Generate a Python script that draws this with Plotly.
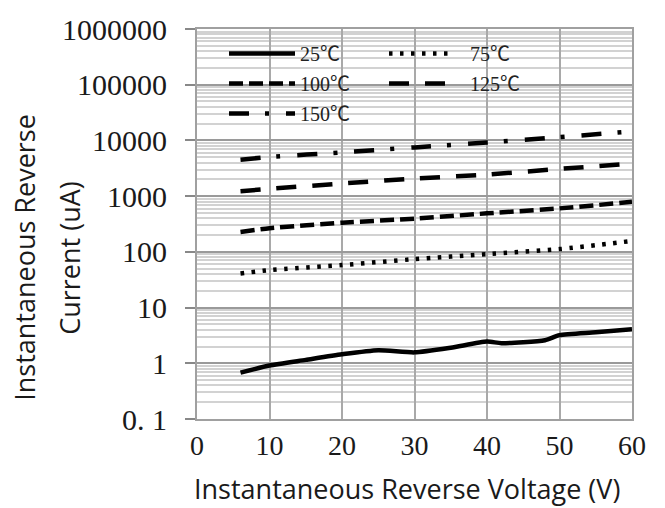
import plotly.graph_objects as go

# ---------------- data ----------------
voltage_25 = [6, 10, 15, 20, 25, 30, 35, 40, 42, 48, 50, 55, 60]
current_25 = [0.68, 0.91, 1.15, 1.45, 1.72, 1.57, 1.9, 2.45, 2.3, 2.6, 3.2, 3.6, 4.1]

voltage_hot = [6, 10, 20, 30, 40, 50, 60]
current_75 = [41, 47, 58, 74, 91, 112, 157]
current_100 = [228, 265, 334, 394, 491, 603, 790]
current_125 = [1228, 1350, 1690, 2070, 2440, 3080, 3840]
current_150 = [4520, 5040, 6110, 7500, 9210, 11460, 14500]

series_names = ["25℃", "75℃", "100℃", "125℃", "150℃"]
y_tick_vals = [0.1, 1, 10, 100, 1000, 10000, 100000, 1000000]
y_tick_text = ["0. 1", "1", "10", "100", "1000", "10000", "100000", "1000000"]
x_tick_vals = [0, 10, 20, 30, 40, 50, 60]

x_title = "Instantaneous Reverse Voltage (V)"
y_title_lines = ["Instantaneous Reverse", "Current (uA)"]

# ---------------- figure ----------------
W, H = 665, 508
L, R, T, B = 197, 33, 27, 89
pw, ph = W - L - R, H - T - B

def px_x(p):
    return (p - L) / pw

def px_y(p):
    return (H - B - p) / ph

serif = "Liberation Serif, Noto Sans CJK JP, serif"
sans = "Open Sans, Noto Sans, sans-serif"

fig = go.Figure()
lw = 4.5
styles = {
    "25℃": dict(dash="solid", legend="legend"),
    "75℃": dict(dash="3.5px,7.5px", legend="legend2"),
    "100℃": dict(dash="14px,6px", legend="legend"),
    "125℃": dict(dash="20px,16px", legend="legend2"),
    "150℃": dict(dash="20px,16px,4px,17px", legend="legend"),
}
data = {
    "25℃": (voltage_25, current_25),
    "75℃": (voltage_hot, current_75),
    "100℃": (voltage_hot, current_100),
    "125℃": (voltage_hot, current_125),
    "150℃": (voltage_hot, current_150),
}
for name in series_names:
    xs, ys = data[name]
    st = styles[name]
    label = name if st["legend"] == "legend" else "\u00a0\u00a0" + name
    fig.add_trace(go.Scatter(
        x=xs, y=ys, mode="lines", name=label,
        line=dict(color="black", width=lw, dash=st["dash"], shape="spline", smoothing=0.6),
        legend=st["legend"], legendgroup=name,
    ))

# white legend box
fig.add_shape(type="rect", xref="paper", yref="paper",
              x0=px_x(213), x1=px_x(536), y0=px_y(128), y1=px_y(38),
              fillcolor="white", line=dict(width=0), layer="between")

leg_common = dict(bgcolor="rgba(0,0,0,0)", borderwidth=0, itemwidth=66,
                  font=dict(family=serif, size=20, color="#222"),
                  xanchor="left", yanchor="top", tracegroupgap=1,
                  itemclick=False)
fig.update_layout(
    legend=dict(x=px_x(224), y=px_y(32), **leg_common),
    legend2=dict(x=px_x(384), y=px_y(32), **leg_common),
)

fig.update_xaxes(
    range=[0, 60], tickvals=x_tick_vals, ticks="",
    showgrid=True, gridcolor="#a9a9a9", gridwidth=2,
    showline=True, linecolor="#a0a0a0", linewidth=2, mirror=True,
    tickfont=dict(family=serif, size=28, color="#1a1a1a"),
    zeroline=False,
)
fig.update_yaxes(
    type="log", range=[-1, 6], tickvals=y_tick_vals, ticktext=y_tick_text,
    ticks="outside", ticklen=10, tickcolor="#888", tickwidth=1.5,
    ticklabelstandoff=12,
    showgrid=True, gridcolor="#9a9a9a", gridwidth=2,
    minor=dict(showgrid=True, gridcolor="#d2d2d2", gridwidth=1.5, dtick="D1", ticks=""),
    showline=True, linecolor="#a0a0a0", linewidth=2, mirror=True,
    tickfont=dict(family=serif, size=30, color="#1a1a1a"),
)

tsize = 27
annos = [
    dict(text=x_title, x=px_x(407), y=px_y(489), font=dict(family=sans, size=tsize, color="#1a1a1a")),
    dict(text=y_title_lines[0], x=px_x(25), y=px_y(257), textangle=-90,
         font=dict(family=sans, size=tsize, color="#1a1a1a")),
    dict(text=y_title_lines[1], x=px_x(70), y=px_y(257), textangle=-90,
         font=dict(family=sans, size=tsize, color="#1a1a1a")),
]
for a in annos:
    fig.add_annotation(xref="paper", yref="paper", showarrow=False,
                       xanchor="center", yanchor="middle", **a)

fig.update_layout(
    width=W, height=H, margin=dict(l=L, r=R, t=T, b=B),
    paper_bgcolor="white", plot_bgcolor="white",
)

fig.write_html("out.html", config={"displayModeBar": False},
               post_script="document.body.style.margin='0';document.body.style.overflow='hidden';")
